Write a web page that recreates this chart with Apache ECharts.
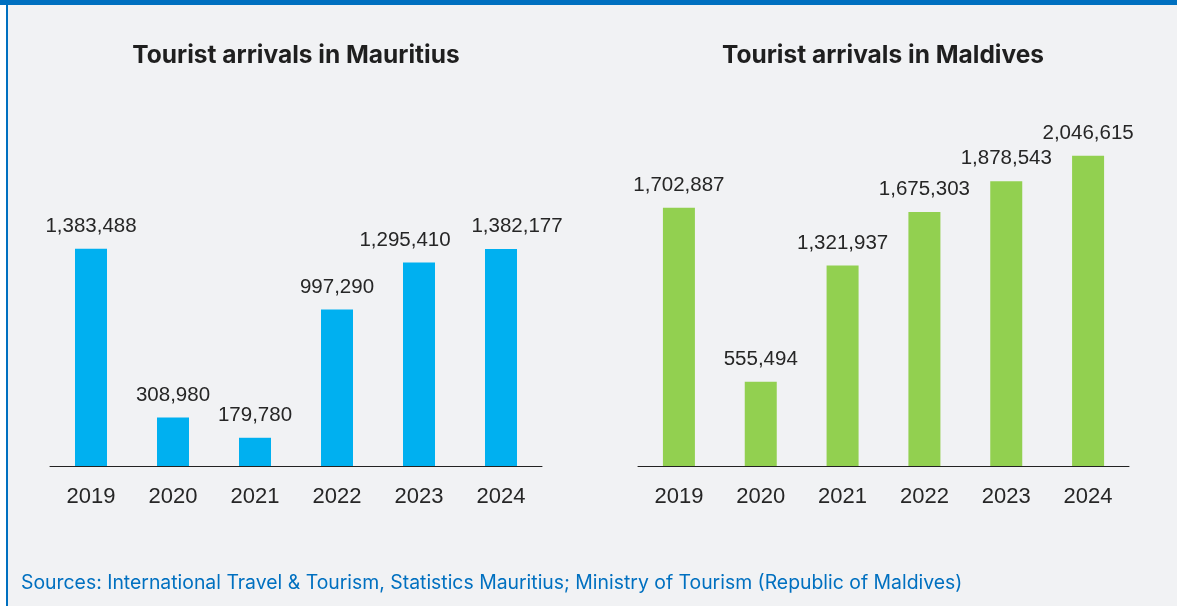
<!DOCTYPE html>
<html>
<head>
<meta charset="utf-8">
<title>Tourist arrivals: Mauritius and Maldives</title>
<script src="https://cdn.jsdelivr.net/npm/echarts@6/dist/echarts.min.js"></script>
<style>
  html, body { margin: 0; padding: 0; background: #ffffff; }
  #chart { width: 1177px; height: 606px; }
</style>
</head>
<body>
<div id="chart"></div>
<script>
// Years shown on both category axes
const years = ['2019', '2020', '2021', '2022', '2023', '2024'];

// Annual tourist arrivals
const mauritiusArrivals = [1383488, 308980, 179780, 997290, 1295410, 1382177];
const maldivesArrivals = [1702887, 555494, 1321937, 1675303, 1878543, 2046615];

const titles = ['Tourist arrivals in Mauritius', 'Tourist arrivals in Maldives'];
const sourceNote = 'Sources: International Travel & Tourism, Statistics Mauritius; Ministry of Tourism (Republic of Maldives)';

const FONT = '"Liberation Sans", Arial, sans-serif';
const HEAD_FONT = 'Inter, "Liberation Sans", Arial, sans-serif';
const TEXT = '#262626';
const BLUE = '#0070c0';

const fmt = v => Number(v).toLocaleString('en-US');

// Horizontal nudges that keep neighbouring value labels from colliding
const mauritiusLabelShift = { 4: -14, 5: 16 };

function xAxisFor(gridIndex) {
  return {
    type: 'category',
    gridIndex,
    data: years,
    axisLine: { show: true, lineStyle: { color: '#222222', width: 1 } },
    axisTick: { show: false },
    axisLabel: { color: TEXT, fontSize: 22, fontFamily: FONT, margin: 20 },
    splitLine: { show: false }
  };
}

function yAxisFor(gridIndex, max) {
  return {
    type: 'value',
    gridIndex,
    min: 0,
    max,
    show: false,
    splitLine: { show: false }
  };
}

function barSeries(index, values, color, shifts) {
  const data = values.map((v, i) =>
    shifts && shifts[i] !== undefined
      ? { value: v, label: { offset: [shifts[i], 0] } }
      : v
  );
  return {
    type: 'bar',
    xAxisIndex: index,
    yAxisIndex: index,
    data,
    barWidth: 32,
    itemStyle: { color },
    label: {
      show: true,
      position: 'top',
      distance: 12,
      color: TEXT,
      fontSize: 20.5,
      fontFamily: FONT,
      formatter: p => fmt(p.value)
    },
    emphasis: { disabled: true },
    animation: false
  };
}

const chart = echarts.init(document.getElementById('chart'), null, { renderer: 'canvas' });

chart.setOption({
  backgroundColor: '#f1f2f4',
  animation: false,
  title: [
    {
      text: titles[0],
      left: 296, top: 43, textAlign: 'center', padding: 0,
      textStyle: { color: '#1f1f1f', fontSize: 24.5, fontWeight: 'bold', fontFamily: HEAD_FONT }
    },
    {
      text: titles[1],
      left: 883, top: 43, textAlign: 'center', padding: 0,
      textStyle: { color: '#1f1f1f', fontSize: 24.5, fontWeight: 'bold', fontFamily: HEAD_FONT }
    },
    {
      text: sourceNote,
      left: 21, top: 574, padding: 0,
      textStyle: { color: BLUE, fontSize: 19.4, fontWeight: 'normal', fontFamily: HEAD_FONT }
    }
  ],
  grid: [
    { left: 50, width: 492, top: 152, bottom: 140 },
    { left: 638, width: 491, top: 87, bottom: 140 }
  ],
  xAxis: [xAxisFor(0), xAxisFor(1)],
  yAxis: [yAxisFor(0, 2000000), yAxisFor(1, 2500000)],
  series: [
    barSeries(0, mauritiusArrivals, '#00b0f0', mauritiusLabelShift),
    barSeries(1, maldivesArrivals, '#92d050', null)
  ],
  graphic: [
    { type: 'rect', shape: { x: 0, y: 0, width: 6, height: 606 }, style: { fill: '#ffffff' }, silent: true },
    { type: 'rect', shape: { x: 6, y: 0, width: 2, height: 606 }, style: { fill: BLUE }, silent: true },
    { type: 'rect', shape: { x: 0, y: 0, width: 1177, height: 5 }, style: { fill: BLUE }, silent: true }
  ]
});
</script>
</body>
</html>
